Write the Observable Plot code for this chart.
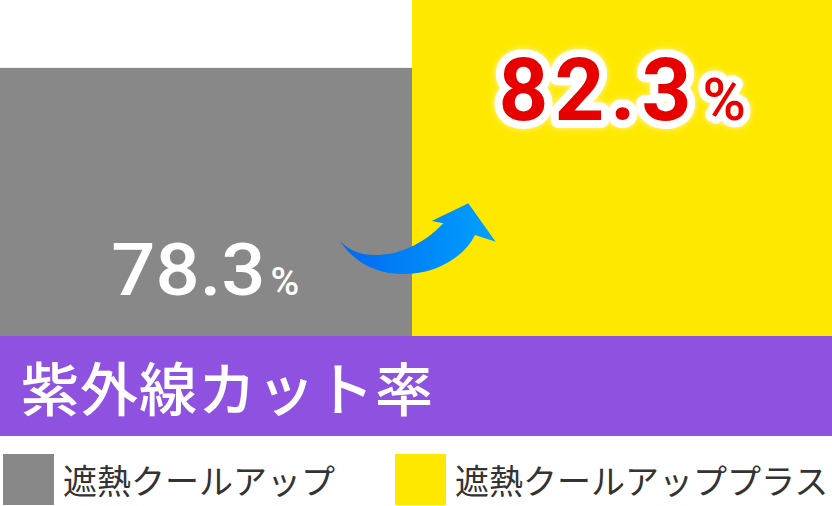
<!DOCTYPE html>
<html>
<head>
<meta charset="utf-8">
<script src="https://cdn.jsdelivr.net/npm/d3@7"></script>
<script src="https://cdn.jsdelivr.net/npm/@observablehq/plot@0.6"></script>
<style>
  html, body { margin: 0; padding: 0; background: #fff; }
  #wrap { position: relative; width: 832px; height: 506px; overflow: hidden; }
  #chart svg { display: block; }
  #band { position: absolute; left: 0; top: 336px; width: 832px; height: 100px; background: #8f52e0; }
  #band span { position: absolute; left: 21px; top: 0; line-height: 100px; font-family: "Noto Sans CJK JP", sans-serif; font-weight: 500; font-size: 58px; color: #fff; letter-spacing: 1px; }
  .sw { position: absolute; top: 454px; width: 51px; height: 51px; }
  .lt { position: absolute; top: 450px; line-height: 60px; font-family: "Noto Sans CJK JP", sans-serif; font-size: 34px; color: #333; }
</style>
</head>
<body>
<div id="wrap">
  <div id="chart"></div>
  <div id="band"><span id="title"></span></div>
  <div id="legend"></div>
</div>
<script>
const categories = ["遮熱クールアップ", "遮熱クールアッププラス"];
const values = [78.3, 82.3];
const colors = ["#888888", "#ffe800"];
const labelText = ["78.3", "82.3"];
const unit = "%";
const title = "紫外線カット率";
const yBase = 62.5;

const data = categories.map((c, i) => ({cat: c, value: values[i], label: labelText[i]}));

const chart = Plot.plot({
  width: 832,
  height: 336,
  margin: 0,
  x: {type: "band", domain: categories, padding: 0, axis: null},
  y: {domain: [yBase, d3.max(values)], axis: null},
  color: {domain: categories, range: colors},
  marks: [
    Plot.barY(data.slice(0, 1), {x: "cat", y1: yBase, y2: "value", fill: "cat", insetRight: 4}),
    Plot.barY(data.slice(1, 2), {x: "cat", y1: yBase, y2: "value", fill: "cat", insetLeft: -4}),
    // gray label
    Plot.text(data.slice(0, 1), {x: "cat", y: "value", text: "label", textAnchor: "end", lineAnchor: "bottom",
      dx: 57, dy: 227, fill: "#fff", fontSize: 72, fontWeight: 500, fontFamily: "Roboto, sans-serif"}),
    Plot.text(data.slice(0, 1), {x: "cat", y: "value", text: () => unit, textAnchor: "start", lineAnchor: "bottom",
      dx: 62, dy: 227, fill: "#fff", fontSize: 39, fontWeight: 500, fontFamily: "Roboto, sans-serif"}),
    // yellow label
    Plot.text(data.slice(1, 2), {x: "cat", y: "value", text: "label", textAnchor: "end", lineAnchor: "bottom",
      dx: 73, dy: 119, fill: "#e60000", stroke: "#fff", strokeWidth: 16, paintOrder: "stroke", strokeLinejoin: "round",
      fontSize: 87, fontWeight: 700, fontFamily: "Roboto, sans-serif"}),
    Plot.text(data.slice(1, 2), {x: "cat", y: "value", text: () => unit, textAnchor: "start", lineAnchor: "bottom",
      dx: 78, dy: 119, fill: "#e60000", stroke: "#fff", strokeWidth: 14, paintOrder: "stroke", strokeLinejoin: "round",
      fontSize: 59, fontWeight: 500, fontFamily: "Roboto, sans-serif"})
  ]
});

// letter spacing / width of number labels
d3.select(chart).selectAll("text").each(function() {
  const t = this.textContent;
  if (t === labelText[0]) {
    const tr = this.getAttribute("transform") || "";
    this.setAttribute("transform", tr + " scale(1.08,1)");
  } else if (t === labelText[1]) {
    this.setAttribute("letter-spacing", "6px");
  }
});

// soft glow behind the highlighted label
const svg = d3.select(chart);
const defs = svg.append("defs");
const glow = defs.append("filter").attr("id", "glow").attr("x", "-20%").attr("y", "-30%").attr("width", "140%").attr("height", "160%");
glow.append("feDropShadow").attr("dx", 0).attr("dy", 0).attr("stdDeviation", 3).attr("flood-color", "#ffffff").attr("flood-opacity", 0.6);
svg.selectAll("g").filter(function() { return this.getAttribute("stroke") === "#fff"; }).attr("filter", "url(#glow)");

// decorative curved arrow, anchored at boundary between the bars
const sx = chart.scale("x"), sy = chart.scale("y");
const bx = sx.apply(categories[1]);          // left edge of second band
const by = sy.apply(values[0]);              // top of first bar
const ox = bx - 416, oy = by - 67.9;
const grad = defs.append("linearGradient").attr("id", "arrowGrad").attr("x1", "0").attr("x2", "1").attr("y1", "0").attr("y2", "0");
grad.append("stop").attr("offset", "0%").attr("stop-color", "#0068f0");
grad.append("stop").attr("offset", "100%").attr("stop-color", "#00a2ff");
const p = (x, y) => `${x + ox},${y + oy}`;
svg.append("path")
  .attr("fill", "url(#arrowGrad)")
  .attr("d", `M${p(338.3,237.7)} C${p(352,262)} ${p(405,264)} ${p(443.3,223.3)} L${p(431.7,221)} L${p(468.3,203.3)} L${p(495.7,241.7)} L${p(475,235)} C${p(452,281)} ${p(368,292)} ${p(338.3,237.7)} Z`);

document.getElementById("chart").appendChild(chart);
document.getElementById("title").textContent = title;

const legend = document.getElementById("legend");
const swX = [3, 395], txX = [63, 455];
categories.forEach((c, i) => {
  const s = document.createElement("div");
  s.className = "sw"; s.style.left = swX[i] + "px"; s.style.background = colors[i];
  legend.appendChild(s);
  const t = document.createElement("div");
  t.className = "lt"; t.style.left = txX[i] + "px"; t.textContent = c;
  legend.appendChild(t);
});
</script>
</body>
</html>
